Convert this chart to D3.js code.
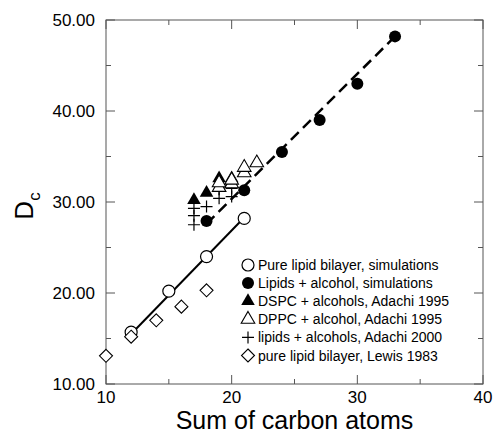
<!DOCTYPE html>
<html>
<head>
<meta charset="utf-8">
<script src="https://cdn.jsdelivr.net/npm/d3@7"></script>
<style>
  body { margin: 0; background: #fff; }
  svg { font-family: "Liberation Sans", Arial, sans-serif; }
</style>
</head>
<body>
<div id="chartDiv"></div>
<script>
// data
const simPureX = [12, 15, 18, 21];
const simPureY = [15.7, 20.2, 24.0, 28.2];
const simAlcX = [18, 21, 24, 27, 30, 33];
const simAlcY = [27.9, 31.3, 35.5, 39.0, 43.0, 48.2];
const dspcX = [17, 18, 19, 20];
const dspcY = [30.2, 31.0, 32.6, 32.6];
const dppcX = [19, 19, 20, 20, 21, 21, 22];
const dppcY = [31.6, 32.1, 32.0, 32.4, 33.2, 33.8, 34.3];
const adachiX = [17, 17, 17, 18, 19, 19, 20, 20];
const adachiY = [27.5, 28.5, 29.3, 29.5, 30.4, 31.4, 30.6, 31.5];
const lewisX = [10, 12, 14, 16, 18];
const lewisY = [13.1, 15.2, 17.0, 18.5, 20.3];
// fitted lines (end points)
const solidLineX = [12, 21];
const solidLineY = [15.5, 28.3];
const dashLineX = [18, 33];
const dashLineY = [27.6, 48.2];

const xTicks = [10, 20, 30, 40];
const xMinor = [15, 25, 35];
const yTicks = [10, 20, 30, 40, 50];
const yMinor = [15, 25, 35, 45];

const legendNames = [
  'Pure lipid bilayer, simulations',
  'Lipids + alcohol, simulations',
  'DSPC + alcohols, Adachi 1995',
  'DPPC + alcohol, Adachi 1995',
  'lipids + alcohols, Adachi 2000',
  'pure lipid bilayer, Lewis 1983'
];

var displayChart = function(){
  const canvasW = 499, canvasH = 435;
  const svg = d3.select('#chartDiv').append('svg')
    .attr('width', canvasW).attr('height', canvasH);

  const margin = {top: 20, right: 16, bottom: 51, left: 106};
  const w = canvasW - margin.left - margin.right;
  const h = canvasH - margin.top - margin.bottom;

  const g = svg.append('g').attr('transform', `translate(${margin.left},${margin.top})`);

  const x = d3.scaleLinear().domain([10, 40]).range([0, w]);
  const y = d3.scaleLinear().domain([10, 50]).range([h, 0]);

  // frame
  g.append('rect').attr('width', w).attr('height', h)
    .attr('fill', 'none').attr('stroke', '#555').attr('stroke-width', 1);

  const major = 9, minor = 5;
  // ticks pointing inward on all four sides
  const tk = g.append('g').attr('stroke', '#555').attr('stroke-width', 1);
  xTicks.concat(xMinor).forEach(v => {
    const len = xTicks.includes(v) ? major : minor;
    tk.append('line').attr('x1', x(v)).attr('x2', x(v)).attr('y1', h).attr('y2', h - len);
    tk.append('line').attr('x1', x(v)).attr('x2', x(v)).attr('y1', 0).attr('y2', len);
  });
  yTicks.concat(yMinor).forEach(v => {
    const len = yTicks.includes(v) ? major : minor;
    tk.append('line').attr('y1', y(v)).attr('y2', y(v)).attr('x1', 0).attr('x2', len);
    tk.append('line').attr('y1', y(v)).attr('y2', y(v)).attr('x1', w).attr('x2', w - len);
  });

  // tick labels
  g.selectAll('.xl').data(xTicks).enter().append('text')
    .attr('x', d => x(d)).attr('y', h + 19)
    .attr('text-anchor', 'middle').attr('font-size', 17).text(d => d);
  g.selectAll('.yl').data(yTicks).enter().append('text')
    .attr('x', -11).attr('y', d => y(d) + 6)
    .attr('text-anchor', 'end').attr('font-size', 17).text(d => d3.format('.2f')(d));

  // axis titles
  svg.append('text').attr('x', margin.left + w / 2).attr('y', 429)
    .attr('text-anchor', 'middle').attr('font-size', 25).text('Sum of carbon atoms');
  const yt = svg.append('text')
    .attr('transform', `translate(33, ${margin.top + h / 2 + 4}) rotate(-90)`)
    .attr('text-anchor', 'middle').attr('font-size', 26);
  yt.append('tspan').text('D');
  yt.append('tspan').attr('font-size', 17).attr('dy', 7).text('c');

  // fit lines
  const line = d3.line().x(d => x(d[0])).y(d => y(d[1]));
  g.append('path').datum(d3.zip(solidLineX, solidLineY)).attr('d', line)
    .attr('fill', 'none').attr('stroke', '#000').attr('stroke-width', 2);
  g.append('path').datum(d3.zip(dashLineX, dashLineY)).attr('d', line)
    .attr('fill', 'none').attr('stroke', '#000').attr('stroke-width', 2.5)
    .attr('stroke-dasharray', '11,6');

  // marker drawers
  const sym = (type, size) => d3.symbol().type(type).size(size)();
  const markers = [
    {draw: (sel) => sel.append('circle').attr('r', 6).attr('fill', '#fff').attr('stroke', '#000').attr('stroke-width', 1.2)},
    {draw: (sel) => sel.append('circle').attr('r', 6).attr('fill', '#000')},
    {draw: (sel) => sel.append('path').attr('d', sym(d3.symbolTriangle, 80)).attr('fill', '#000')},
    {draw: (sel) => sel.append('path').attr('d', sym(d3.symbolTriangle, 80)).attr('fill', '#fff').attr('stroke', '#000').attr('stroke-width', 1.1)},
    {draw: (sel) => sel.append('path').attr('d', 'M-6,0H6M0,-6V6').attr('stroke', '#000').attr('stroke-width', 1.2)},
    {draw: (sel) => sel.append('path').attr('d', 'M0,-6.5L6.5,0L0,6.5L-6.5,0Z').attr('fill', '#fff').attr('stroke', '#000').attr('stroke-width', 1.1)}
  ];

  const series = [
    [simPureX, simPureY, 0],
    [lewisX, lewisY, 5],
    [adachiX, adachiY, 4],
    [dspcX, dspcY, 2],
    [dppcX, dppcY, 3],
    [simAlcX, simAlcY, 1]
  ];
  series.forEach(([xs, ys, m]) => {
    d3.zip(xs, ys).forEach(p => {
      const s = g.append('g').attr('transform', `translate(${x(p[0])},${y(p[1])})`);
      markers[m].draw(s);
    });
  });

  // legend
  const lg = svg.append('g').attr('transform', 'translate(248,265)');
  legendNames.forEach((name, i) => {
    const row = lg.append('g').attr('transform', `translate(0,${i * 18.1})`);
    markers[i].draw(row.append('g'));
    row.append('text').attr('x', 10).attr('y', 5).attr('font-size', 14).text(name);
  });
};

displayChart();
</script>
</body>
</html>
